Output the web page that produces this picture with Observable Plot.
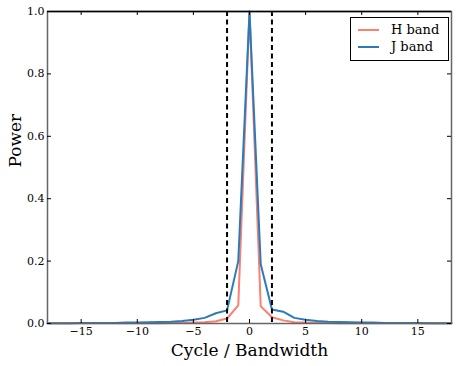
<!DOCTYPE html>
<html>
<head>
<meta charset="utf-8">
<script src="https://cdn.jsdelivr.net/npm/d3@7"></script>
<script src="https://cdn.jsdelivr.net/npm/@observablehq/plot@0.6"></script>
<style>
  html, body { margin: 0; padding: 0; background: #fff; }
  #wrap { position: relative; width: 457px; height: 366px; font-family: "DejaVu Serif", serif; }
  #legend { position: absolute; left: 350px; top: 17px; width: 99px; height: 44px; border: 1px solid #000; background: #fff; box-sizing: border-box; font-size: 13px; }
  .item { position: absolute; left: 7px; display: flex; align-items: center; }
  .item span { margin-left: 11px; }
</style>
</head>
<body>
<div id="wrap"></div>
<script>
const cycles = d3.range(-18, 19);
const hBand = [0.0005,0.0005,0.0005,0.0005,0.0006,0.0006,0.0007,0.0008,0.0009,0.001,0.0012,0.0015,0.002,0.003,0.004,0.007,0.016,0.058,1.0,0.055,0.02,0.01,0.004,0.003,0.002,0.0015,0.0012,0.001,0.0009,0.0008,0.0007,0.0006,0.0006,0.0005,0.0005,0.0005,0.0005];
const jBand = [0.001,0.001,0.0012,0.0015,0.0015,0.002,0.002,0.003,0.003,0.004,0.005,0.006,0.008,0.012,0.018,0.033,0.042,0.20,1.0,0.19,0.045,0.038,0.018,0.012,0.008,0.006,0.005,0.004,0.003,0.003,0.002,0.002,0.0015,0.0015,0.0012,0.001,0.001];
const xTicks = [-15, -10, -5, 0, 5, 10, 15];
const yTicks = [0, 0.2, 0.4, 0.6, 0.8, 1.0];
const cutoffs = [-2, 2];
const seriesNames = ["H band", "J band"];
const seriesColors = ["#fa8072", "#2b7bba"];

const rows = [];
cycles.forEach((c, i) => rows.push({cycle: c, power: hBand[i], band: seriesNames[0]}));
cycles.forEach((c, i) => rows.push({cycle: c, power: jBand[i], band: seriesNames[1]}));

const W = 457, H = 366, mL = 47, mR = 6, mT = 11, mB = 43;
const fw = W - mL - mR, fh = H - mT - mB;

const chart = Plot.plot({
  width: W, height: H,
  marginLeft: mL, marginRight: mR, marginTop: mT, marginBottom: mB,
  style: {fontFamily: "DejaVu Serif, serif", fontSize: "11px", background: "#fff", color: "#000"},
  x: {domain: [-18, 18], label: null},
  y: {domain: [0, 1], label: null},
  color: {domain: seriesNames, range: seriesColors},
  marks: [
    Plot.line(rows, {x: "cycle", y: "power", stroke: "band", z: "band", strokeWidth: 2, strokeLinejoin: "round"}),
    Plot.ruleX(cutoffs, {stroke: "#000", strokeWidth: 2, strokeDasharray: "5,3.5"}),
    Plot.frame({stroke: "#666", strokeWidth: 1.5}),
    Plot.ruleY([1], {stroke: "#000", strokeWidth: 1.5}),
    Plot.tickX(xTicks, {x: d => d, insetTop: fh - 4, stroke: "#000"}),
    Plot.tickX(xTicks, {x: d => d, insetBottom: fh - 4, stroke: "#000"}),
    Plot.tickY(yTicks, {y: d => d, insetRight: fw - 4, stroke: "#000"}),
    Plot.tickY(yTicks, {y: d => d, insetLeft: fw - 4, stroke: "#000"}),
    Plot.axisX(xTicks, {tickSize: 0, tickPadding: 4, fontSize: 11, label: null}),
    Plot.axisY(yTicks, {tickSize: 0, tickPadding: 3, tickFormat: d3.format(".1f"), fontSize: 11, label: null}),
    Plot.text(["Cycle / Bandwidth"], {frameAnchor: "bottom", dy: 32, fontSize: 17}),
    Plot.text(["Power"], {frameAnchor: "left", dx: -32, rotate: -90, fontSize: 17})
  ]
});

const wrap = document.getElementById("wrap");
wrap.appendChild(chart);
const legend = document.createElement("div");
legend.id = "legend";
seriesNames.forEach((name, i) => {
  const it = document.createElement("div");
  it.className = "item";
  it.style.top = (i === 0 ? 4 : 21) + "px";
  it.innerHTML = `<svg width="22" height="14"><line x1="0" y1="7" x2="21" y2="7" stroke="${seriesColors[i]}" stroke-width="2"/></svg><span>${name}</span>`;
  legend.appendChild(it);
});
wrap.appendChild(legend);
</script>
</body>
</html>
